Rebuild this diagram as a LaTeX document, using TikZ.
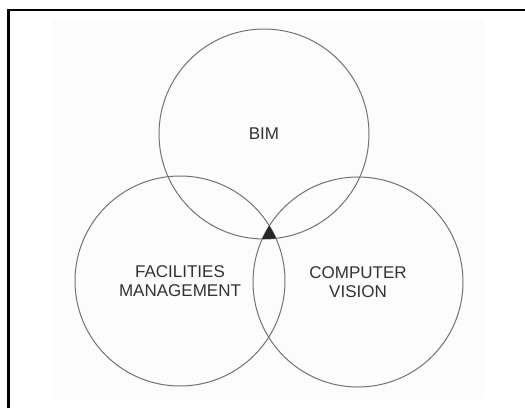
\documentclass[tikz,border=0pt]{standalone}
\usepackage{fontspec}
\setmainfont{Liberation Sans}
\begin{document}
\begin{tikzpicture}[x=1pt,y=-1pt,
  venn/.style={circle,draw=black!55,line width=1pt,minimum size=210pt,inner sep=0pt,
    align=center,text=black!80,font=\fontsize{17}{19.5}\selectfont}]
\useasboundingbox (0,0) rectangle (525,408);
\fill[white] (0,0) rectangle (525,408);
\fill[black!1] (52,20) rectangle (485,399);
\node[venn] (bim) at (264,134) {BIM};
\node[venn] (fm) at (180,281) {FACILITIES\\MANAGEMENT};
\node[venn] (cv) at (358,282) {COMPUTER\\VISION};
\begin{scope}
  \clip (bim.center) circle[radius=105];
  \clip (fm.center) circle[radius=105];
  \fill[black!85] (cv.center) circle[radius=105];
\end{scope}
\draw[line width=2.2pt,black] (8.5,408) -- (8.5,10) -- (525,10);
\end{tikzpicture}
\end{document}
